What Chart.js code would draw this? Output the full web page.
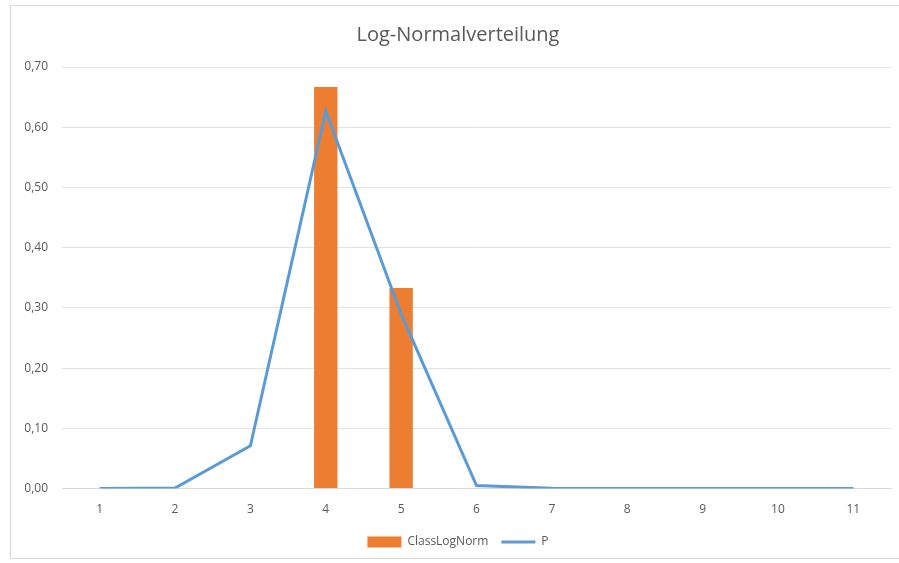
<!DOCTYPE html>
<html>
<head>
<meta charset="utf-8">
<script src="https://cdn.jsdelivr.net/npm/chart.js@4"></script>
<style>
  html, body { margin: 0; padding: 0; background: #fff; }
  #frame {
    position: absolute; left: 10px; top: 5px;
    width: 895px; height: 554px;
    border: 1px solid #d9d9d9; box-sizing: border-box;
  }
  #chart { display: block; }
</style>
</head>
<body>
<div id="frame"><canvas id="chart" width="893" height="552"></canvas></div>
<script>
// categories and series
const classes = ['1', '2', '3', '4', '5', '6', '7', '8', '9', '10', '11'];
const classLogNorm = [0, 0, 0, 0.667, 0.333, 0, 0, 0, 0, 0, 0];
const pValues = [0, 0.001, 0.071, 0.627, 0.29, 0.005, 0.0005, 0, 0, 0, 0];

const fontFamily = "'Open Sans', 'Noto Sans', sans-serif";
const textColor = '#595959';

const ctx = document.getElementById('chart').getContext('2d');
const chart = new Chart(ctx, {
    type: 'bar',
    data: {
        labels: classes,
        datasets: [{
            type: 'line',
            label: 'P',
            data: pValues,
            borderColor: '#5b9bd5',
            backgroundColor: '#5b9bd5',
            borderWidth: 3,
            pointRadius: 0,
            tension: 0,
            pointStyle: 'line',
            order: 0
        }, {
            label: 'ClassLogNorm',
            data: classLogNorm,
            backgroundColor: '#ed7d31',
            categoryPercentage: 1,
            barPercentage: 0.31,
            pointStyle: 'rect',
            order: 1
        }]
    },
    options: {
        responsive: false,
        animation: false,
        layout: { padding: { left: 14, right: 13, top: 4, bottom: 0 } },
        plugins: {
            title: {
                display: true,
                text: 'Log-Normalverteilung',
                color: textColor,
                font: { family: fontFamily, size: 20, weight: 'normal' },
                padding: { top: 13, bottom: 20 }
            },
            legend: {
                position: 'bottom',
                reverse: true,
                labels: {
                    usePointStyle: true,
                    pointStyleWidth: 34,
                    boxHeight: 11,
                    color: textColor,
                    padding: 13,
                    font: { family: fontFamily, size: 12 }
                }
            },
            tooltip: { enabled: false }
        },
        scales: {
            x: {
                offset: true,
                grid: { display: false },
                border: { color: '#d9d9d9' },
                ticks: {
                    color: textColor,
                    padding: 6,
                    font: { family: fontFamily, size: 12 }
                }
            },
            y: {
                min: 0,
                max: 0.7,
                grid: { color: '#e3e3e3', drawTicks: false },
                border: { display: false },
                // fixed axis width so the labels sit close to the grid
                afterFit: scale => { scale.width = 37; },
                ticks: {
                    stepSize: 0.1,
                    padding: 14,
                    color: textColor,
                    font: { family: fontFamily, size: 12 },
                    callback: v => v.toFixed(2).replace('.', ',')
                }
            }
        }
    }
});
</script>
</body>
</html>
